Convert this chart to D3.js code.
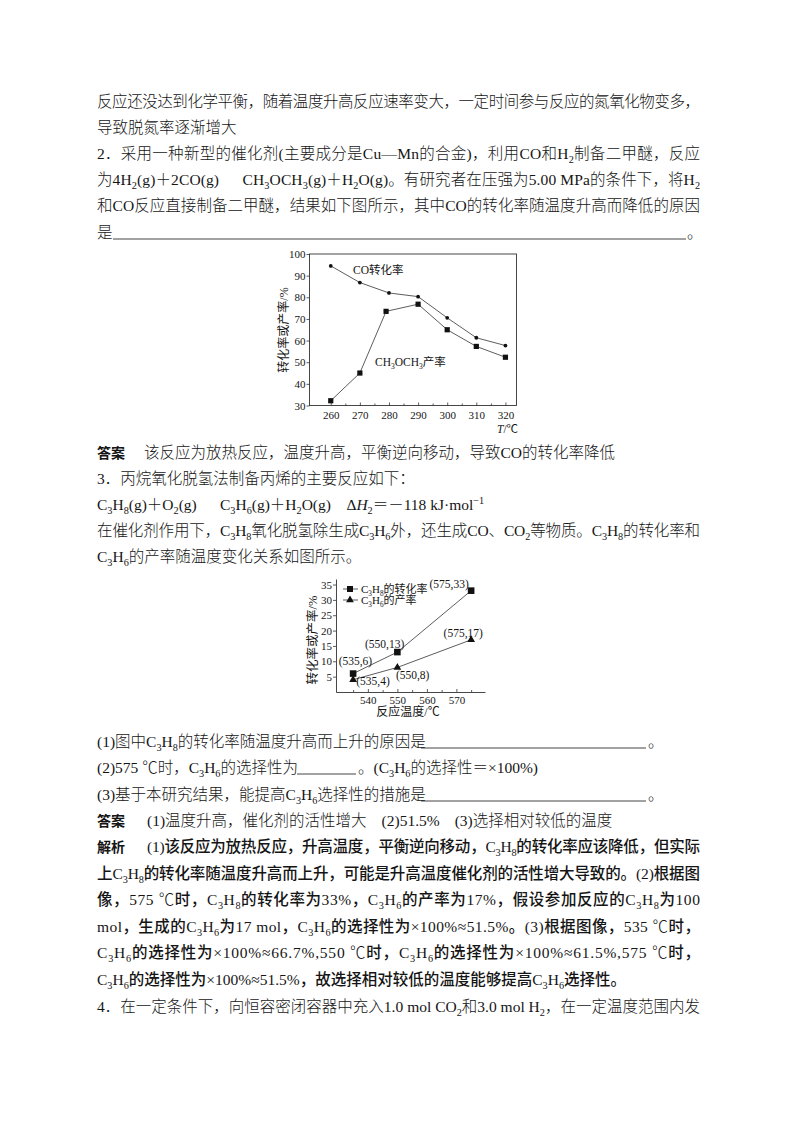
<!DOCTYPE html>
<html>
<head>
<meta charset="utf-8">
<title>转化率与产率</title>
<style>
  body { margin: 0; background: #fff; }
  svg { display: block; }
</style>
<script src="https://d3js.org/d3.v7.min.js"></script>
</head>
<body>
<div id="page"></div>
<script>
// ******* Data: figure 1 (CO / CH3OCH3 vs T) *******
const coTemps   = [260, 270, 280, 290, 300, 310, 320];
const coConv    = [94.5, 86.8, 82.0, 80.3, 70.5, 61.3, 57.7];
const dmeTemps  = [260, 270, 279, 290, 300, 310, 320];
const dmeYield  = [32.2, 45.0, 73.5, 76.8, 65.0, 57.3, 52.3];
const xTicks1   = [260, 270, 280, 290, 300, 310, 320];
const xMinor1   = [265, 275, 285, 295, 305, 315];
const yTicks1   = [30, 40, 50, 60, 70, 80, 90, 100];

// ******* Data: figure 2 (C3H8 / C3H6 vs T) *******
const c3Temps   = [535, 550, 575];
const c3h8Conv  = [6, 13, 33];
const c3h6Yield = [4, 8, 17];
const xTicks2   = [540, 550, 560, 570];
const xMinor2   = [535, 545, 555, 565, 575];
const yTicks2   = [5, 10, 15, 20, 25, 30, 35];

// ******* Constants *******
const W = 800, H = 1132;
const INK = "#151515";
const SERIF = "'Liberation Serif','Times New Roman','Noto Sans CJK SC',serif";
const FS = 15.5;
const CJK_RUNS = /[\u2E80-\u9FFF\u3000-\u303F\uFF00-\uFFEF]+|[^\u2E80-\u9FFF\u3000-\u303F\uFF00-\uFFEF]+/g;
const CJK_ONE = /[\u2E80-\u9FFF\u3000-\u303F\uFF00-\uFFEF]/;

const svg = d3.select("#page").append("svg")
    .attr("width", W)
    .attr("height", H);

// text with _{sub} ^{sup} ~{italic}
function rich(parent, str, o) {
  const fs = o.size || FS;
  const t = parent.append("text")
      .attr("x", o.x).attr("y", o.y)
      .attr("font-size", fs)
      .attr("font-family", SERIF)
      .attr("fill", INK);
  if (o.anchor) t.attr("text-anchor", o.anchor);
  if (o.weight) t.attr("font-weight", o.weight);
  if (o.transform) t.attr("transform", o.transform);
  const re = /([_^~])\{([^}]*)\}/g;
  const pieces = [];
  let pos = 0, m;
  while ((m = re.exec(str))) {
    if (m.index > pos) pieces.push(["", str.slice(pos, m.index)]);
    pieces.push([m[1], m[2]]);
    pos = re.lastIndex;
  }
  if (pos < str.length) pieces.push(["", str.slice(pos)]);
  let cur = 0;
  pieces.forEach(([k, s]) => {
    const shift = k === "_" ? fs * 0.26 : k === "^" ? -fs * 0.38 : 0;
    const runs = o.cjkWeight ? s.match(CJK_RUNS) : [s];
    runs.forEach((r, i) => {
      const ts = t.append("tspan").text(r);
      if (i === 0 && shift !== cur) { ts.attr("dy", shift - cur); cur = shift; }
      if (k === "_" || k === "^") ts.attr("font-size", fs * 0.66);
      if (k === "~") ts.attr("font-style", "italic");
      if (o.cjkWeight && CJK_ONE.test(r)) ts.attr("font-weight", o.cjkWeight);
    });
  });
  if (o.width) {
    const n = t.text().length;
    const w0 = t.node().getComputedTextLength();
    t.style("letter-spacing", ((o.width - w0) / (n - 1)) + "px");
  }
  return t;
}

// ******* Page text *******
const L = 97, FULL = 603;
const lines = [
  {y: 101, s: "反应还没达到化学平衡，随着温度升高反应速率变大，一定时间参与反应的氮氧化物变多，", w: FULL},
  {y: 127, s: "导致脱氮率逐渐增大"},
  {y: 153, s: "2．采用一种新型的催化剂(主要成分是Cu—Mn的合金)，利用CO和H_{2}制备二甲醚，反应", w: FULL},
  {y: 179, s: "为4H_{2}(g)＋2CO(g)\u2003\u2002CH_{3}OCH_{3}(g)＋H_{2}O(g)。有研究者在压强为5.00 MPa的条件下，将H_{2}", w: FULL},
  {y: 205, s: "和CO反应直接制备二甲醚，结果如下图所示，其中CO的转化率随温度升高而降低的原因", w: FULL},
  {y: 232, s: "是"},
  {y: 232, x: 687, s: "。"},
  {y: 452, s: "答案", weight: 700, size: 14},
  {y: 452, x: 144, s: "该反应为放热反应，温度升高，平衡逆向移动，导致CO的转化率降低"},
  {y: 478, s: "3．丙烷氧化脱氢法制备丙烯的主要反应如下："},
  {y: 504, s: "C_{3}H_{8}(g)＋O_{2}(g)\u2003\u2002C_{3}H_{6}(g)＋H_{2}O(g)\u2003Δ~{H}_{2}＝－118 kJ·mol^{−1}"},
  {y: 530, s: "在催化剂作用下，C_{3}H_{8}氧化脱氢除生成C_{3}H_{6}外，还生成CO、CO_{2}等物质。C_{3}H_{8}的转化率和", w: FULL},
  {y: 556, s: "C_{3}H_{6}的产率随温度变化关系如图所示。"},
  {y: 741, s: "(1)图中C_{3}H_{8}的转化率随温度升高而上升的原因是"},
  {y: 741, x: 648, s: "。"},
  {y: 767, s: "(2)575 ℃时，C_{3}H_{6}的选择性为"},
  {y: 767, x: 358, s: "。(C_{3}H_{6}的选择性＝×100%)"},
  {y: 794, s: "(3)基于本研究结果，能提高C_{3}H_{6}选择性的措施是"},
  {y: 794, x: 648, s: "。"},
  {y: 820, s: "答案", weight: 700, size: 14},
  {y: 820, x: 147, s: ["(1)温度升高，催化剂的活性增大", "(2)51.5%", "(3)选择相对较低的温度"], gap: 15},
  {y: 846, s: "解析", weight: 700, size: 14},
  {y: 846, x: 147, s: "(1)该反应为放热反应，升高温度，平衡逆向移动，C_{3}H_{8}的转化率应该降低，但实际", w: 553, cjk: 500},
  {y: 873, s: "上C_{3}H_{8}的转化率随温度升高而上升，可能是升高温度催化剂的活性增大导致的。(2)根据图", w: FULL, cjk: 500},
  {y: 899, s: "像，575 ℃时，C_{3}H_{8}的转化率为33%，C_{3}H_{6}的产率为17%，假设参加反应的C_{3}H_{8}为100", w: FULL, cjk: 500},
  {y: 926, s: "mol，生成的C_{3}H_{6}为17 mol，C_{3}H_{6}的选择性为×100%≈51.5%。(3)根据图像，535 ℃时，", w: FULL, cjk: 500},
  {y: 952, s: "C_{3}H_{6}的选择性为×100%≈66.7%,550 ℃时，C_{3}H_{6}的选择性为×100%≈61.5%,575 ℃时，", w: FULL, cjk: 500},
  {y: 979, s: "C_{3}H_{6}的选择性为×100%≈51.5%，故选择相对较低的温度能够提高C_{3}H_{6}选择性。", cjk: 500},
  {y: 1006, s: "4．在一定条件下，向恒容密闭容器中充入1.0 mol CO_{2}和3.0 mol H_{2}，在一定温度范围内发", w: FULL}
];
const blanks = [
  {y: 232, x1: 113, x2: 686},
  {y: 741, x1: 421, x2: 646},
  {y: 767, x1: 297, x2: 356},
  {y: 794, x1: 421, x2: 646}
];

const textG = svg.append("g");
lines.forEach(d => {
  const base = {y: d.y + 5.5, width: d.w, weight: d.weight || 300, cjkWeight: d.cjk, size: d.size};
  if (Array.isArray(d.s)) {
    // several pieces on one line, separated by a fixed gap
    let x = d.x;
    d.s.forEach(s => {
      const t = rich(textG, s, Object.assign({}, base, {x: x}));
      x += t.node().getComputedTextLength() + d.gap;
    });
  } else {
    rich(textG, d.s, Object.assign({}, base, {x: d.x || L}));
  }
});
textG.selectAll("line.blank").data(blanks).enter().append("line")
    .attr("x1", d => d.x1).attr("x2", d => d.x2)
    .attr("y1", d => d.y + 7).attr("y2", d => d.y + 7)
    .attr("stroke", INK).attr("stroke-width", 0.8);

// ******* Figure 1 *******
const x1 = d3.scaleLinear().domain([252.7, 323.8]).range([309.5, 516.5]);
const y1 = d3.scaleLinear().domain([30, 100]).range([405.5, 254]);
const f1 = svg.append("g").attr("font-family", SERIF);

f1.append("rect")
    .attr("x", x1.range()[0]).attr("y", y1.range()[1])
    .attr("width", x1.range()[1] - x1.range()[0])
    .attr("height", y1.range()[0] - y1.range()[1])
    .attr("fill", "none").attr("stroke", "#333").attr("stroke-width", 0.9);

f1.append("g")
    .attr("transform", `translate(${x1.range()[0]},0)`)
    .call(d3.axisLeft(y1).tickValues(yTicks1).tickSize(3).tickPadding(1))
    .call(g => g.select(".domain").remove());

f1.append("g")
    .attr("transform", `translate(0,${y1.range()[0]})`)
    .call(d3.axisBottom(x1).tickValues(xTicks1).tickSizeInner(-3).tickSizeOuter(0).tickPadding(6))
    .call(g => g.select(".domain").remove());

f1.append("g")
    .attr("transform", `translate(0,${y1.range()[0]})`)
    .call(d3.axisBottom(x1).tickValues(xMinor1).tickSizeInner(-2).tickSizeOuter(0).tickFormat(""))
    .call(g => g.select(".domain").remove());

f1.selectAll(".tick text").attr("font-size", 11).attr("font-family", SERIF).attr("fill", INK);
f1.selectAll(".tick line").attr("stroke", "#333").attr("stroke-width", 0.8);

const coPts = coTemps.map((t, i) => [t, coConv[i]]);
const dmePts = dmeTemps.map((t, i) => [t, dmeYield[i]]);
const line1 = d3.line().x(d => x1(d[0])).y(d => y1(d[1]));

f1.append("path").attr("d", line1(coPts))
    .attr("fill", "none").attr("stroke", "#333").attr("stroke-width", 0.8);
f1.append("path").attr("d", line1(dmePts))
    .attr("fill", "none").attr("stroke", "#333").attr("stroke-width", 0.8);

f1.selectAll("circle.co").data(coPts).enter().append("circle")
    .attr("cx", d => x1(d[0])).attr("cy", d => y1(d[1])).attr("r", 1.9)
    .attr("fill", "#111");
f1.selectAll("rect.dme").data(dmePts).enter().append("rect")
    .attr("x", d => x1(d[0]) - 2.6).attr("y", d => y1(d[1]) - 2.6)
    .attr("width", 5.2).attr("height", 5.2).attr("fill", "#111");

rich(f1, "CO转化率", {x: 353, y: 273.5, size: 11.5});
rich(f1, "CH_{3}OCH_{3}产率", {x: 375, y: 366, size: 11.5});
rich(f1, "转化率或产率/%", {x: 0, y: 0, size: 12, anchor: "middle",
  transform: "translate(288,330) rotate(-90)"});
rich(f1, "~{T}/℃", {x: 497, y: 433, size: 11.5});

// ******* Figure 2 *******
const x2 = d3.scaleLinear().domain([529.2, 579.7]).range([336, 485]);
const y2 = d3.scaleLinear().domain([0, 36.8]).range([692, 579]);
const f2 = svg.append("g").attr("font-family", SERIF);

f2.append("g")
    .attr("transform", `translate(${x2.range()[0]},0)`)
    .call(d3.axisLeft(y2).tickValues(yTicks2).tickSizeInner(3).tickSizeOuter(0).tickPadding(1));

f2.append("g")
    .attr("transform", `translate(0,${y2.range()[0]})`)
    .call(d3.axisBottom(x2).tickValues(xTicks2).tickSizeInner(-3).tickSizeOuter(0).tickPadding(4));

f2.append("g")
    .attr("transform", `translate(0,${y2.range()[0]})`)
    .call(d3.axisBottom(x2).tickValues(xMinor2).tickSizeInner(-2).tickSizeOuter(0).tickFormat(""))
    .call(g => g.select(".domain").remove());

f2.selectAll(".tick text").attr("font-size", 11).attr("font-family", SERIF).attr("fill", INK);
f2.selectAll(".tick line").attr("stroke", "#333").attr("stroke-width", 0.8);
f2.selectAll(".domain").attr("stroke", "#333").attr("stroke-width", 0.9);

const convPts = c3Temps.map((t, i) => [t, c3h8Conv[i]]);
const yieldPts = c3Temps.map((t, i) => [t, c3h6Yield[i]]);
const line2 = d3.line().x(d => x2(d[0])).y(d => y2(d[1]));

f2.append("path").attr("d", line2(convPts))
    .attr("fill", "none").attr("stroke", "#333").attr("stroke-width", 0.8);
f2.append("path").attr("d", line2(yieldPts))
    .attr("fill", "none").attr("stroke", "#333").attr("stroke-width", 0.8);

const tri = d3.symbol().type(d3.symbolTriangle).size(26);
f2.selectAll("rect.conv").data(convPts).enter().append("rect")
    .attr("x", d => x2(d[0]) - 3.3).attr("y", d => y2(d[1]) - 3.3)
    .attr("width", 6.6).attr("height", 6.6).attr("fill", "#111");
f2.selectAll("path.yield").data(yieldPts).enter().append("path")
    .attr("d", tri)
    .attr("transform", d => `translate(${x2(d[0])},${y2(d[1])})`)
    .attr("fill", "#111");

// point labels, offsets relative to each point
const convOff = [[2.3, -12.7], [-12.7, -8.4], [-22, -6.4]];
const yieldOff = [[19.9, 1], [15.3, 7.7], [-7.9, -6.4]];
convPts.forEach((d, i) => rich(f2, `(${d[0]},${d[1]})`, {
  x: x2(d[0]) + convOff[i][0], y: y2(d[1]) + convOff[i][1] + 4, size: 11.5, anchor: "middle"}));
yieldPts.forEach((d, i) => rich(f2, `(${d[0]},${d[1]})`, {
  x: x2(d[0]) + yieldOff[i][0], y: y2(d[1]) + yieldOff[i][1] + 4, size: 11.5, anchor: "middle"}));

// legend
const leg = f2.append("g");
[589, 600].forEach((ly, i) => {
  leg.append("line").attr("x1", 343).attr("x2", 358).attr("y1", ly).attr("y2", ly)
      .attr("stroke", "#333").attr("stroke-width", 0.8);
  if (i === 0) {
    leg.append("rect").attr("x", 347).attr("y", ly - 3).attr("width", 6).attr("height", 6).attr("fill", "#111");
  } else {
    leg.append("path").attr("d", tri).attr("transform", `translate(350,${ly})`).attr("fill", "#111");
  }
});
rich(leg, "C_{3}H_{8}的转化率", {x: 361, y: 593, size: 11});
rich(leg, "C_{3}H_{6}的产率", {x: 361, y: 604, size: 11});

rich(f2, "转化率或产率/%", {x: 0, y: 0, size: 12.5, anchor: "middle",
  transform: "translate(317,640) rotate(-90)"});
rich(f2, "反应温度/℃", {x: 408, y: 716, size: 12, anchor: "middle"});
</script>
</body>
</html>
